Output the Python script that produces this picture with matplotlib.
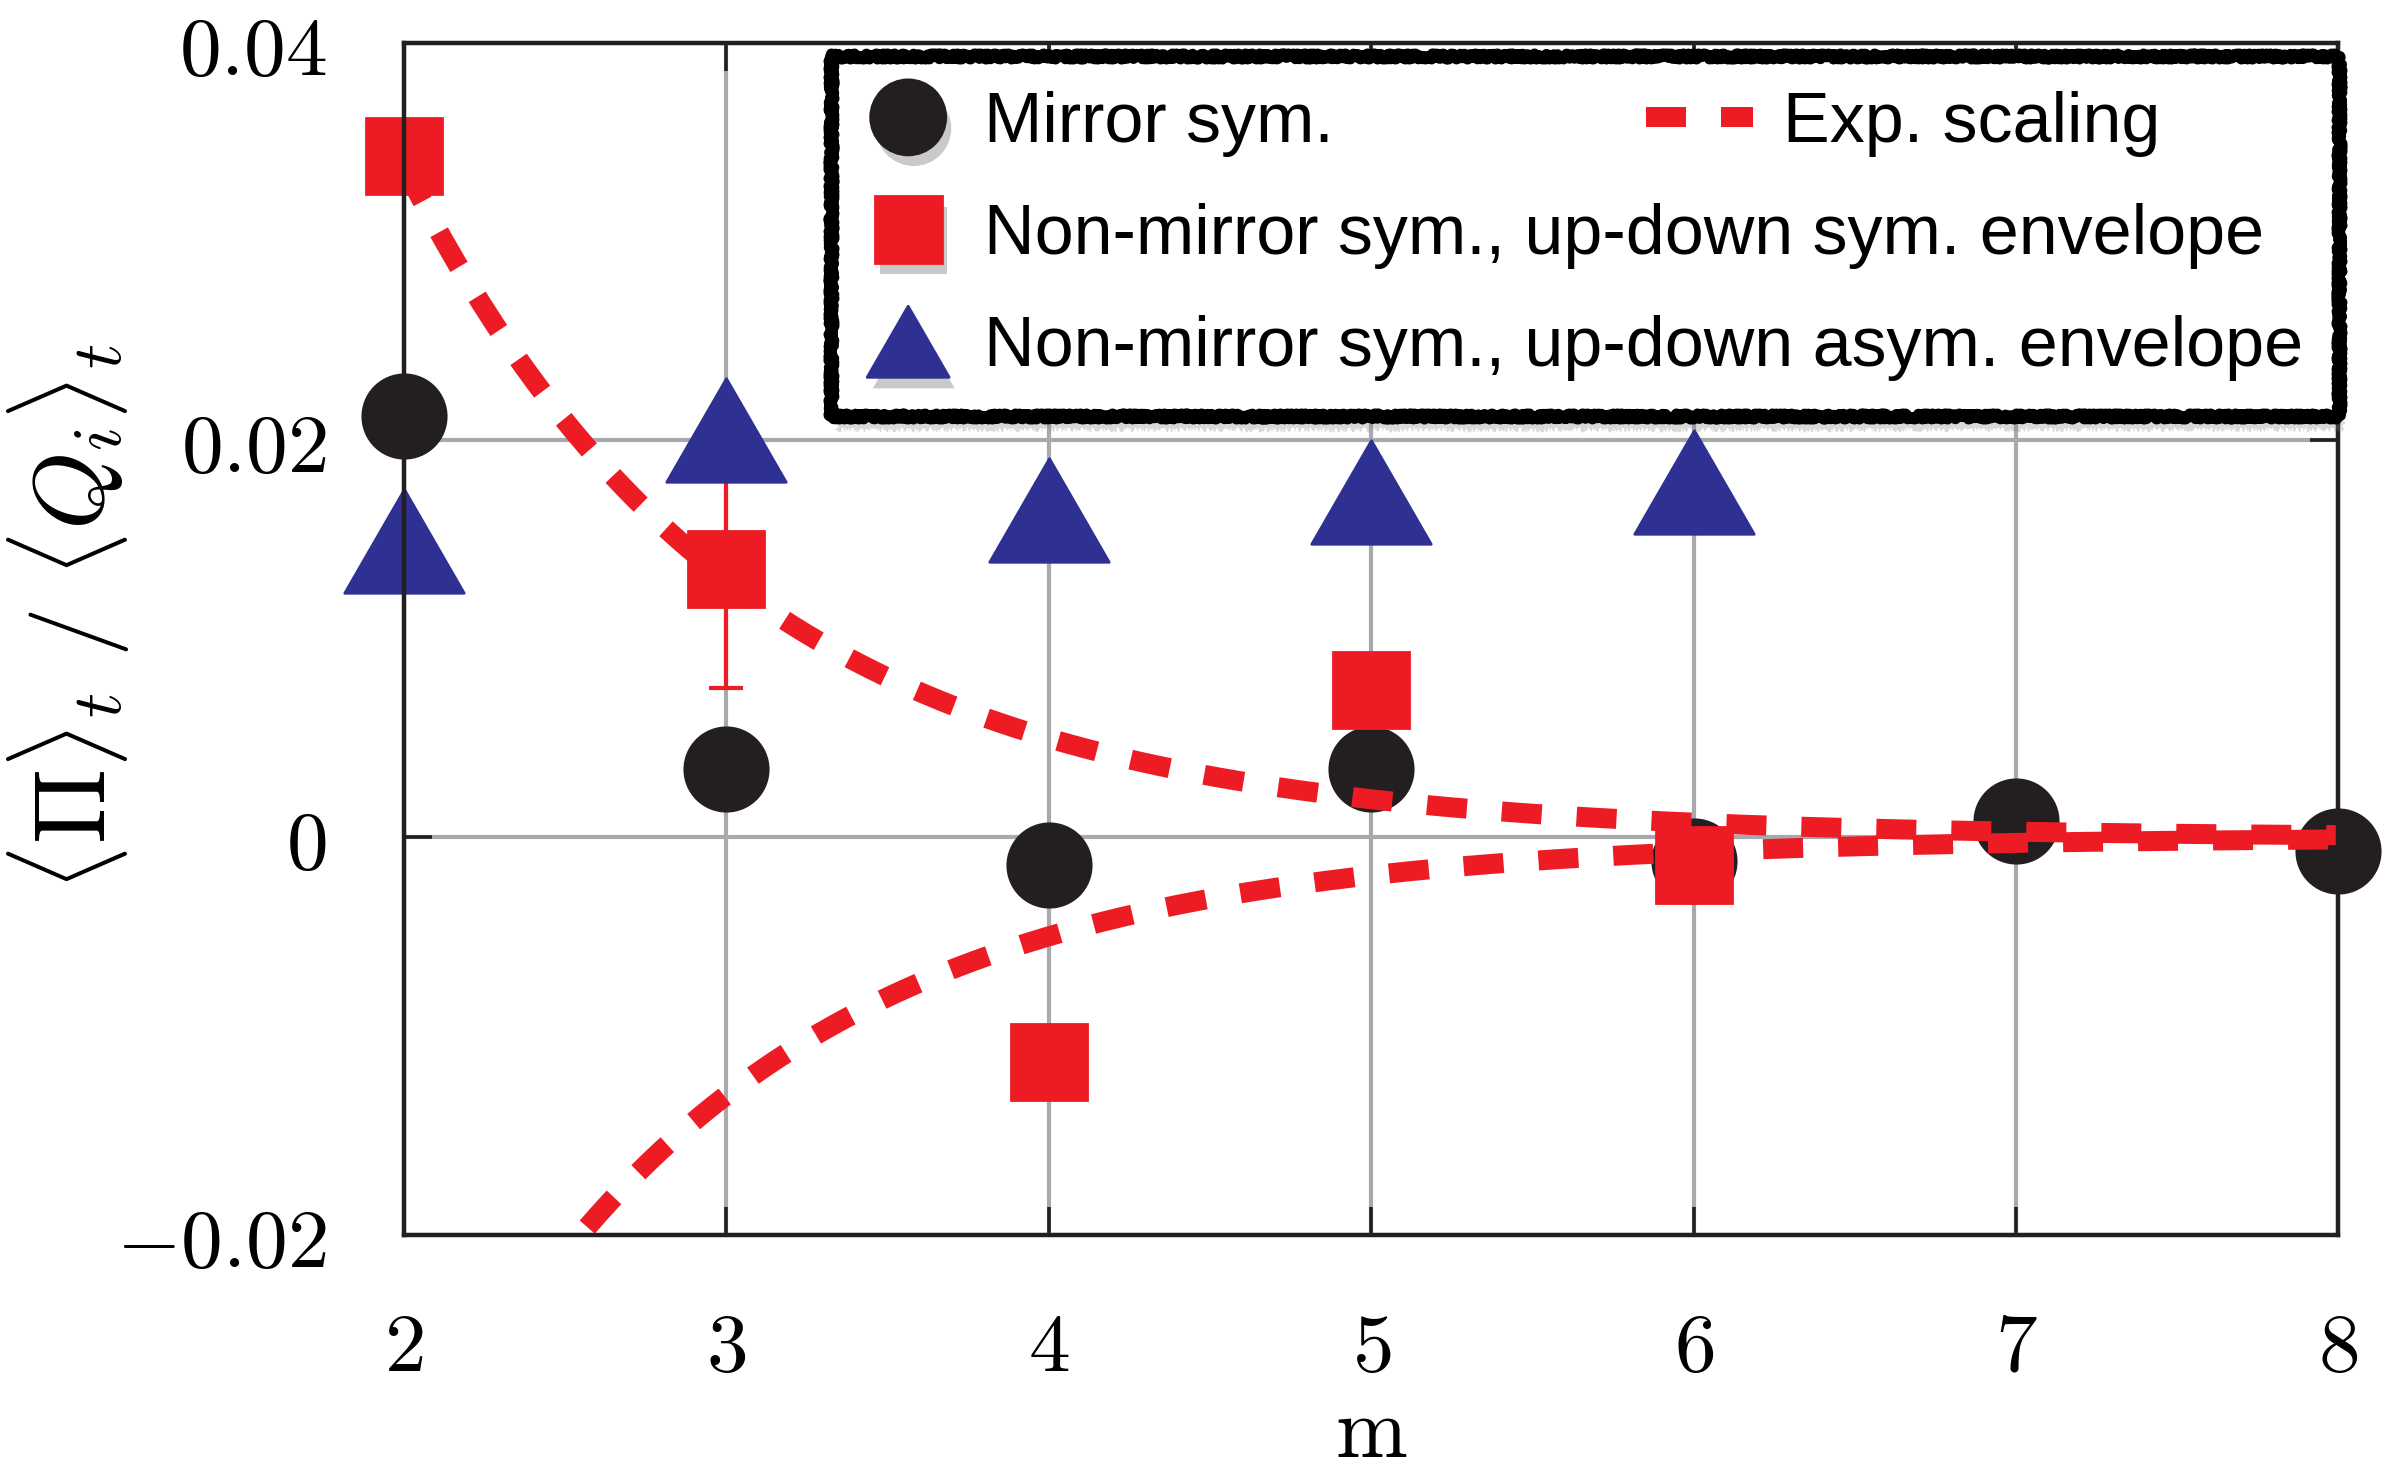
import numpy as np
import matplotlib.pyplot as plt
import matplotlib.patheffects as pe
from matplotlib.path import Path

plt.rcParams['mathtext.fontset'] = 'cm'

# data
m_mirror = [2, 3, 4, 5, 6, 7, 8]
mirror = [0.0212, 0.00345, -0.0014, 0.00345, -0.0012, 0.0008, -0.0007]

m_sym = [2, 3, 4, 5, 6]
sym_env = [0.0343, 0.0135, -0.0113, 0.0074, -0.0014]
sym_err = [0, 0.006, 0, 0, 0]

m_asym = [2, 3, 4, 5, 6]
asym_env = [0.0149, 0.0205, 0.0165, 0.0174, 0.0179]

# exp. scaling envelope +/- amp * exp(-rate * (m - 2))
exp_amp = 0.0338
exp_rate = 0.957

xticks = [2, 3, 4, 5, 6, 7, 8]
yticks = [-0.02, 0, 0.02, 0.04]
ytick_labels = ['$-0.02$', '$0$', '$0.02$', '$0.04$']

RED = '#ed1c24'
BLACK = '#231f20'
BLUE = '#2e3192'
GRID = '#a7a9ac'

tri = Path([(-1, -0.867), (1, -0.867), (0, 0.867), (-1, -0.867)],
           [Path.MOVETO, Path.LINETO, Path.LINETO, Path.CLOSEPOLY])

fig = plt.figure(figsize=(11.955, 7.375), dpi=200)
ax = fig.add_axes([0.169, 0.163, 0.809, 0.808])

ax.grid(True, color=GRID, linewidth=1.5, zorder=0)
ax.set_axisbelow(True)

ax.plot(m_mirror, mirror, 'o', color=BLACK, markersize=30, clip_on=False,
        zorder=3, label='Mirror sym.')

mm = np.linspace(2, 8, 300)
env = exp_amp * np.exp(-exp_rate * (mm - 2))
line, = ax.plot(mm, env, '--', color=RED, linewidth=7.2, dashes=(2.0, 1.75),
                zorder=4, label='Exp. scaling')
ax.plot(mm, -env, '--', color=RED, linewidth=7.2, dashes=(2.0, 1.75), zorder=4)

zeros = np.zeros(len(sym_err))
ax.errorbar(m_sym, sym_env, yerr=[sym_err, zeros], fmt='none',
            ecolor=RED, elinewidth=1.5, capsize=6, capthick=1.5, zorder=5)
ax.errorbar(m_sym, sym_env, yerr=[zeros, sym_err], fmt='none',
            ecolor=RED, elinewidth=1.5, capsize=0, zorder=5)
sq, = ax.plot(m_sym, sym_env, 's', color=RED, markersize=27.7, clip_on=False,
              zorder=5, label='Non-mirror sym., up-down sym. envelope')
tr, = ax.plot(m_asym, asym_env, marker=tri, linestyle='none', color=BLUE,
              markersize=43, clip_on=False, zorder=6,
              label='Non-mirror sym., up-down asym. envelope')

ax.set_xlim(2, 8)
ax.set_ylim(-0.02, 0.04)
ax.set_xticks(xticks)
ax.set_xticklabels(['$%d$' % x for x in xticks])
ax.set_yticks(yticks)
ax.set_yticklabels(ytick_labels)
ax.tick_params(direction='in', length=10, width=1.3, color=BLACK,
               top=True, right=True, labelsize=30)
ax.tick_params(axis='x', pad=26)
ax.tick_params(axis='y', pad=28)
for s in ax.spines.values():
    s.set_linewidth(1.6)
    s.set_color(BLACK)
    s.set_zorder(10)

ax.set_xlabel(r'$\mathrm{m}$', fontsize=31, labelpad=1.5)
ax.set_ylabel(r'$\langle \Pi \rangle_t\ /\ \langle Q_i \rangle_t$', fontsize=36)
ax.yaxis.set_label_coords(-0.1405, 0.518)

handles, labels = ax.get_legend_handles_labels()
main_h = [h for h, l in zip(handles, labels) if l != 'Exp. scaling']
main_l = [l for l in labels if l != 'Exp. scaling']
leg = ax.legend(main_h, main_l, loc='upper left', bbox_to_anchor=(0.2208, 0.989),
                borderaxespad=0, borderpad=0.5, handlelength=1.2, handletextpad=0.49,
                labelspacing=0.66, fancybox=False, framealpha=1,
                prop={'family': 'Liberation Sans', 'size': 25.2})
leg.set_zorder(20)
fr = leg.get_frame()
fr.set_edgecolor('black')
fr.set_linewidth(4)
fr.set_joinstyle('round')
fr.set_sketch_params(scale=2.5, length=3, randomness=5)
fr.set_path_effects([pe.SimplePatchShadow(offset=(2, -5), shadow_rgbFace='0.5', alpha=0.3),
                     pe.Normal()])
for h, ms in zip(leg.legend_handles, [27, 24, 29.5]):
    h.set_markersize(ms)
    h.set_path_effects([pe.SimplePatchShadow(offset=(2, -4), shadow_rgbFace='0.4', alpha=0.35),
                        pe.Normal()])
ax.add_artist(leg)

leg2 = ax.legend([line], ['Exp. scaling'], loc='upper left', bbox_to_anchor=(0.6241, 0.989),
                 borderaxespad=0, borderpad=0.5, handlelength=1.53, handletextpad=0.43,
                 frameon=False, prop={'family': 'Liberation Sans', 'size': 25.2})
leg2.set_zorder(21)

fig.savefig('out.png', dpi=200)
